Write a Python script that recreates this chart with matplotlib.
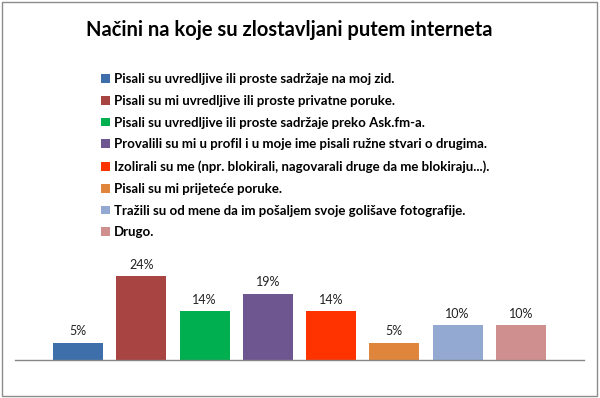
import matplotlib
matplotlib.use("Agg")
import matplotlib.pyplot as plt
from matplotlib.patches import Rectangle

title = "Načini na koje su zlostavljani putem interneta"
categories = [
    "Pisali su uvredljive ili proste sadržaje na moj zid.",
    "Pisali su mi uvredljive ili proste privatne poruke.",
    "Pisali su uvredljive ili proste sadržaje preko Ask.fm-a.",
    "Provalili su mi u profil i u moje ime pisali ružne stvari o drugima.",
    "Izolirali su me (npr. blokirali, nagovarali druge da me blokiraju...).",
    "Pisali su mi prijeteće poruke.",
    "Tražili su od mene da im pošaljem svoje golišave fotografije.",
    "Drugo.",
]
values = [5, 24, 14, 19, 14, 5, 10, 10]
value_labels = ["5%", "24%", "14%", "19%", "14%", "5%", "10%", "10%"]
colors = ["#3F6FAA", "#A84442", "#00AF50", "#6E5790", "#FF3300",
          "#E0853C", "#93A9D1", "#D08F8F"]

W, H = 600, 398
fig = plt.figure(figsize=(W / 100, H / 100), dpi=100)
fig.patch.set_facecolor("white")

# outer chart border
fig.patches.append(Rectangle((2 / W, 2 / H), 595 / W, 394 / H, transform=fig.transFigure,
                             fill=False, edgecolor="#8C8C8C", linewidth=1.0))

FONT = "Lato"

fig.text(289 / W, 1 - 30 / H, title, ha="center", va="center",
         fontsize=14.5, fontweight="bold", family=FONT, color="black")

ax = fig.add_axes([15 / W, (H - 360) / H, 569 / W, 105 / H])
x = list(range(len(values)))
bars = ax.bar(x, values, width=0.79, color=colors, edgecolor="none")
ax.set_xlim(-1, 8)
ax.set_ylim(0, 30)
for s in ["top", "left", "right"]:
    ax.spines[s].set_visible(False)
ax.spines["bottom"].set_color("#868686")
ax.spines["bottom"].set_linewidth(1.0)
ax.set_xticks([])
ax.set_yticks([])
ax.patch.set_alpha(0)

for b, lab in zip(bars, value_labels):
    ax.annotate(lab, (b.get_x() + b.get_width() / 2, b.get_height()),
                xytext=(0, 8), textcoords="offset points", ha="center", va="center",
                fontsize=9, family=FONT, color="#222222")

leg = fig.legend(bars, categories, loc="upper left",
                 bbox_to_anchor=(101 / W, 1 - 73 / H),
                 frameon=False, borderpad=0, borderaxespad=0,
                 handlelength=0.65, handleheight=0.65, handletextpad=0.3,
                 labelspacing=0.745,
                 prop={"family": FONT, "weight": "bold", "size": 9.5})

fig.savefig("out.png", dpi=100, facecolor="white")
